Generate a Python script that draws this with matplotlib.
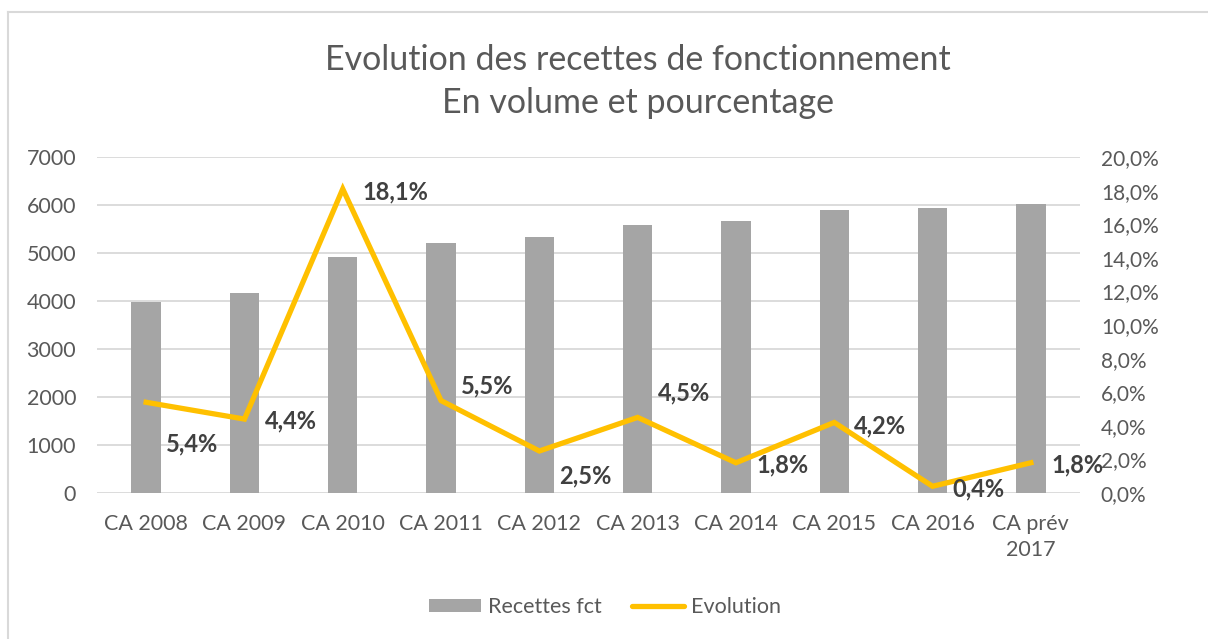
import matplotlib
matplotlib.use("Agg")
import matplotlib.pyplot as plt
from matplotlib.lines import Line2D
from matplotlib.patches import Patch
from matplotlib.ticker import FuncFormatter, MultipleLocator

plt.rcParams['font.family'] = ['Lato', 'DejaVu Sans']

categories = ["CA 2008", "CA 2009", "CA 2010", "CA 2011", "CA 2012",
              "CA 2013", "CA 2014", "CA 2015", "CA 2016", "CA prév\n2017"]
recettes = [3980, 4170, 4920, 5210, 5340, 5580, 5670, 5900, 5930, 6020]
evolution = [5.4, 4.4, 18.1, 5.5, 2.5, 4.5, 1.8, 4.2, 0.4, 1.8]
# label vertical offsets (pixels, positive = down) to mimic the original label placement
label_dy = [42, 2, 3, -15, 25, -24, 2, 3, 3, 2]

GRAY_TXT = "#595959"
BAR = "#A5A5A5"
LINE = "#FFC000"
GRID = "#D9D9D9"

fig = plt.figure(figsize=(12.08, 6.39), dpi=100)
ax = fig.add_axes([97/1208, 1-493/639, (1080-97)/1208, (493-157)/639])
x = list(range(len(categories)))
ax.bar(x, recettes, width=0.3, color=BAR, zorder=2)
ax.set_ylim(0, 7000)
ax.set_xlim(-0.5, len(categories)-0.5)
ax.yaxis.set_major_locator(MultipleLocator(1000))
ax.grid(axis='y', color=GRID, linewidth=1.3, zorder=0)
ax.set_axisbelow(True)
for s in ax.spines.values():
    s.set_visible(False)
ax.tick_params(axis='both', length=0, labelsize=15.5, labelcolor=GRAY_TXT)
ax.tick_params(axis='y', pad=15)
ax.tick_params(axis='x', pad=15)
ax.set_xticks(x)
ax.set_xticklabels(categories, linespacing=1.4)

ax2 = ax.twinx()
ax2.plot(x, evolution, color=LINE, linewidth=3.8, solid_joinstyle='miter', zorder=3)
ax2.set_ylim(0, 20)
ax2.yaxis.set_major_locator(MultipleLocator(2))
ax2.yaxis.set_major_formatter(FuncFormatter(lambda v, p: f"{v:.1f}%".replace('.', ',')))
for s in ax2.spines.values():
    s.set_visible(False)
ax2.tick_params(axis='y', length=0, labelsize=15, labelcolor=GRAY_TXT, pad=15)

for xi, v, dy in zip(x, evolution, label_dy):
    ax2.annotate(f"{v:.1f}%".replace('.', ','), (xi, v), xytext=(14.5, -dy*0.72),
                 textcoords='offset points', ha='left', va='center',
                 fontsize=17, fontweight='bold', color="#404040", zorder=5)

fig.text(638/1208, 1-60/639, "Evolution des recettes de fonctionnement",
         ha='center', va='center', fontsize=24.5, color=GRAY_TXT)
fig.text(638/1208, 1-103/639, "En volume et pourcentage",
         ha='center', va='center', fontsize=24.5, color=GRAY_TXT)

handles = [Patch(facecolor=BAR, edgecolor='none', label="Recettes fct"),
           Line2D([0], [0], color=LINE, linewidth=3.8, solid_capstyle='round', label="Evolution")]
fig.legend(handles=handles, loc='center', bbox_to_anchor=(605/1208, 1-607/639), ncol=2,
           frameon=False, fontsize=15.5, labelcolor=GRAY_TXT, handlelength=2.4,
           handleheight=0.55, handletextpad=0.35, columnspacing=1.4)

# chart area border (left and top edges visible)
fig.add_artist(Line2D([8/1208, 8/1208], [0, 1-12/639], transform=fig.transFigure,
                      color=GRID, linewidth=1.5))
fig.add_artist(Line2D([8/1208, 1], [1-12/639, 1-12/639], transform=fig.transFigure,
                      color=GRID, linewidth=1.5))

fig.savefig("out.png", dpi=100)
